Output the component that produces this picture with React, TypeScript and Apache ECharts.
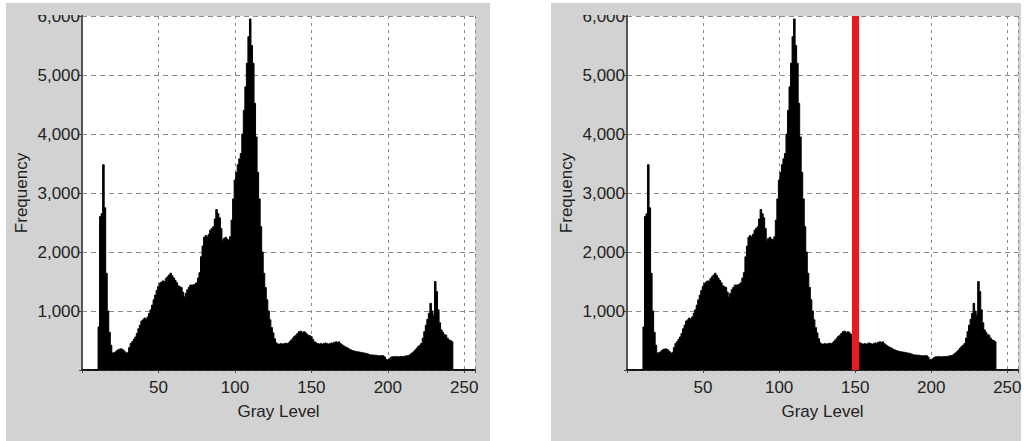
import React, { useEffect, useRef } from "react";
import * as echarts from "echarts";

// Histogram frequency for gray levels 0..255
const frequency: number[] = [
  0, 0, 0, 0, 0, 0, 0, 0, 0, 0,
  0, 730, 2600, 2650, 3480, 2750, 1640, 1000, 640, 420,
  290, 300, 310, 330, 350, 360, 355, 340, 310, 290,
  300, 380, 450, 480, 520, 560, 620, 700, 760, 830,
  850, 880, 860, 900, 960, 1020, 1100, 1190, 1270, 1350,
  1420, 1470, 1490, 1510, 1500, 1550, 1580, 1610, 1640, 1600,
  1560, 1520, 1480, 1430, 1410, 1400, 1320, 1240, 1300, 1360,
  1400, 1440, 1440, 1450, 1460, 1480, 1560, 1650, 1920, 2100,
  2250, 2280, 2260, 2300, 2370, 2400, 2430, 2560, 2720, 2650,
  2580, 2400, 2200, 2230, 2250, 2220, 2200, 2260, 2540, 2900,
  3220, 3350, 3480, 3580, 3670, 4000, 4400, 4800, 5200, 5650,
  5950, 5500, 5200, 4520, 3950, 3350, 2900, 2430, 2000, 1640,
  1400, 1190, 1000, 850, 720, 630, 530, 460, 440, 440,
  450, 440, 450, 455, 450, 460, 480, 510, 540, 570,
  590, 620, 650, 660, 640, 650, 640, 610, 590, 580,
  565, 520, 480, 460, 450, 440, 450, 440, 450, 460,
  450, 440, 450, 460, 450, 470, 480, 470, 480, 450,
  430, 410, 395, 380, 370, 350, 340, 330, 320, 315,
  310, 305, 300, 295, 290, 285, 280, 270, 260, 255,
  255, 250, 250, 245, 240, 240, 245, 240, 220, 180,
  170, 190, 210, 225, 225, 230, 225, 225, 230, 230,
  230, 235, 240, 245, 250, 270, 290, 310, 340, 370,
  400, 420, 450, 540, 650, 760, 860, 960, 1130, 1000,
  930, 1500, 1330, 1020, 800, 680, 640, 600, 590, 540,
  510, 500, 480, 0, 0, 0, 0, 0, 0, 0,
  0, 0, 0, 0, 0, 0,
];
const grayLevels: number[] = frequency.map((_, i) => i);
const thresholdLevel = 150;

const xTicks = [50, 100, 150, 200, 250];
const xMax = 257;
const yMax = 6000;
const yInterval = 1000;

const FONT = "'Liberation Sans', Arial, sans-serif";
const GRAY = "#d2d2d2";
const TEXT = "#222";

export default function App() {
  const ref = useRef<HTMLDivElement>(null);

  useEffect(() => {
    if (!ref.current) return;
    const chart = echarts.init(ref.current, undefined, { renderer: "svg" });
    const data = grayLevels.map((g, i) => [g, frequency[i]]);

    const grids = [
      { left: 82, top: 16, width: 393, height: 354 },
      { left: 627, top: 16, width: 391, height: 354 },
    ];

    const xAxes: any[] = [];
    const yAxes: any[] = [];
    grids.forEach((_, gi) => {
      xAxes.push({
        type: "value",
        gridIndex: gi,
        position: "bottom",
        min: 0,
        max: xMax,
        interval: 50,
        axisLine: { show: true, lineStyle: { color: "#111", width: 2 } },
        axisTick: { show: true, length: 3, lineStyle: { color: "#444" } },
        axisLabel: {
          color: TEXT,
          fontFamily: FONT,
          fontSize: 17,
          margin: 9,
          formatter: (v: number) => (xTicks.includes(v) ? String(v) : ""),
        },
        splitLine: {
          show: true,
          lineStyle: { color: "#8a8a8a", width: 1, type: [3, 4] },
        },
        name: "Gray Level",
        nameLocation: "middle",
        nameGap: 33,
        nameTextStyle: { color: TEXT, fontFamily: FONT, fontSize: 17 },
      });
      xAxes.push({
        type: "value",
        gridIndex: gi,
        position: "top",
        min: 0,
        max: 1,
        axisLine: {
          show: true,
          lineStyle: { color: "#333", width: 1.5, type: [5, 3] },
        },
        axisTick: { show: false },
        axisLabel: { show: false },
        splitLine: { show: false },
      });
      yAxes.push({
        type: "value",
        gridIndex: gi,
        position: "left",
        min: 0,
        max: yMax,
        interval: yInterval,
        axisLine: { show: true, lineStyle: { color: "#111", width: 2 } },
        axisTick: { show: true, length: 3, lineStyle: { color: "#444" } },
        axisLabel: {
          color: TEXT,
          fontFamily: FONT,
          fontSize: 17,
          margin: 2,
          formatter: (v: number) => (v === 0 ? "" : v.toLocaleString("en-US")),
        },
        splitLine: {
          show: true,
          lineStyle: { color: "#8a8a8a", width: 1, type: [5, 4] },
        },
        name: "Frequency",
        nameLocation: "middle",
        nameRotate: 90,
        nameGap: 52,
        nameTextStyle: { color: TEXT, fontFamily: FONT, fontSize: 17 },
      });
      yAxes.push({
        type: "value",
        gridIndex: gi,
        position: "right",
        min: 0,
        max: 1,
        axisLine: { show: true, lineStyle: { color: "#555", width: 2 } },
        axisTick: { show: false },
        axisLabel: { show: false },
        splitLine: { show: false },
      });
    });

    const histSeries = (gi: number) => ({
      type: "line",
      xAxisIndex: gi * 2,
      yAxisIndex: gi * 2,
      data,
      step: "middle",
      showSymbol: false,
      silent: true,
      lineStyle: { color: "#000", width: 1 },
      areaStyle: { color: "#000", opacity: 1 },
    });

    chart.setOption({
      animation: false,
      grid: grids.map((g) => ({ ...g, show: true, backgroundColor: "#fff", borderWidth: 0 })),
      xAxis: xAxes,
      yAxis: yAxes,
      series: [
        histSeries(0),
        {
          ...histSeries(1),
          markLine: {
            symbol: "none",
            silent: true,
            label: { show: false },
            lineStyle: { color: "#e8191f", width: 7, type: "solid" },
            data: [{ xAxis: thresholdLevel }],
          },
        },
      ],
      graphic: [
        { type: "rect", z: 100, shape: { x: 6, y: 3, width: 484, height: 12 }, style: { fill: GRAY } },
        { type: "rect", z: 100, shape: { x: 551, y: 3, width: 470, height: 12 }, style: { fill: GRAY } },
      ],
    });

    return () => chart.dispose();
  }, []);

  return (
    <div style={{ position: "fixed", left: 0, top: 0, width: 1027, height: 441, background: "#fff" }}>
      <div style={{ position: "absolute", left: 6, top: 3, width: 484, height: 438, background: GRAY }} />
      <div style={{ position: "absolute", left: 551, top: 3, width: 470, height: 438, background: GRAY }} />
      <div ref={ref} style={{ position: "absolute", left: 0, top: 0, width: 1027, height: 441 }} />
    </div>
  );
}
